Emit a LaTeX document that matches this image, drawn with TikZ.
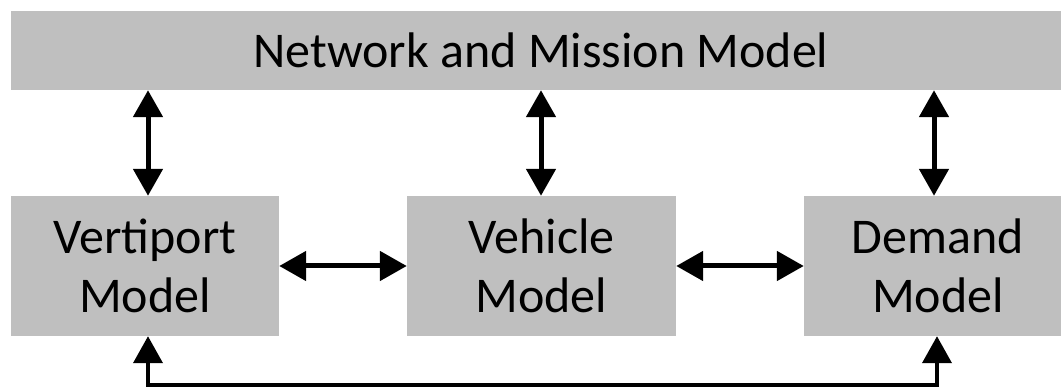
\documentclass[tikz,border=0pt]{standalone}
\usepackage{fontspec}
\setmainfont{Carlito}
\usetikzlibrary{arrows.meta}
\definecolor{boxgray}{RGB}{191,191,191}
\begin{document}
\begin{tikzpicture}[x=1pt,y=-1pt,
  blk/.style={fill=boxgray, draw=none, inner sep=0pt, align=center,
    font=\fontsize{50}{59}\selectfont},
  tip/.style={Triangle[length=27pt,width=29pt]},
  link/.style={line width=5pt, {Triangle[length=27pt,width=29pt]}-{Triangle[length=27pt,width=29pt]}},
  feed/.style={line width=4pt, -{Triangle[length=27pt,width=29pt]}}]
\useasboundingbox (0,0) rectangle (1061,387);
\node[blk, minimum width=1060pt, minimum height=79pt] (net) at (541,50.5) {Network and Mission Model};
\node[blk, minimum width=268pt, minimum height=140pt] (vert) at (145,266) {Vertiport\\Model};
\node[blk, minimum width=269pt, minimum height=140pt] (veh) at (541.5,266) {Vehicle\\Model};
\node[blk, minimum width=268pt, minimum height=140pt] (dem) at (938,266) {Demand\\Model};
\coordinate (xl) at (148,0);
\coordinate (xm) at (541,0);
\coordinate (xr) at (934,0);
\draw[link] (net.south -| xl) -- (vert.north -| xl);
\draw[link] (net.south -| xm) -- (veh.north -| xm);
\draw[link] (net.south -| xr) -- (dem.north -| xr);
\draw[link] (vert.east) -- (veh.west);
\draw[link] (veh.east) -- (dem.west);
\coordinate (bl) at (148,385);
\coordinate (br) at (937,385);
\draw[line width=4pt, line join=miter] ([yshift=-20pt]dem.south -| br) -- (br) -- (bl) -- ([yshift=-20pt]vert.south -| bl);
\draw[feed] ([yshift=-30pt]vert.south -| bl) -- (vert.south -| bl);
\draw[feed] ([yshift=-30pt]dem.south -| br) -- (dem.south -| br);
\end{tikzpicture}
\end{document}
